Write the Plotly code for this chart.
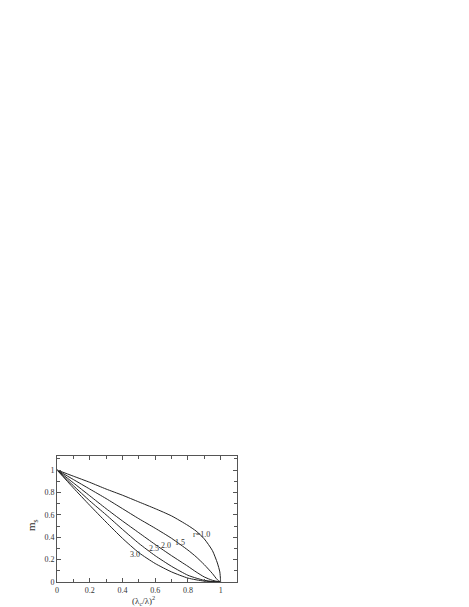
import plotly.graph_objects as go

# values
r_values = ["1.0", "1.5", "2.0", "2.5", "3.0"]

x_r10 = [0, 0.1, 0.2, 0.3, 0.4, 0.5, 0.6, 0.7, 0.8, 0.85, 0.9, 0.95, 0.98, 0.995, 1.0]
m_r10 = [1.0, 0.945, 0.89, 0.83, 0.775, 0.715, 0.655, 0.59, 0.505, 0.455, 0.385, 0.28, 0.17, 0.09, 0.0]

x_r15 = [0, 0.1, 0.2, 0.3, 0.4, 0.5, 0.6, 0.7, 0.8, 0.85, 0.9, 0.95, 0.98, 1.0]
m_r15 = [1.0, 0.915, 0.83, 0.745, 0.655, 0.565, 0.48, 0.39, 0.285, 0.225, 0.155, 0.075, 0.02, 0.0]

x_r20 = [0, 0.1, 0.2, 0.3, 0.4, 0.5, 0.6, 0.7, 0.8, 0.85, 0.9, 0.95, 1.0]
m_r20 = [1.0, 0.885, 0.77, 0.655, 0.545, 0.44, 0.335, 0.235, 0.14, 0.09, 0.045, 0.015, 0.0]

x_r25 = [0, 0.1, 0.2, 0.3, 0.4, 0.5, 0.6, 0.7, 0.8, 0.85, 0.9, 0.95, 1.0]
m_r25 = [1.0, 0.86, 0.725, 0.6, 0.47, 0.345, 0.235, 0.14, 0.06, 0.035, 0.015, 0.005, 0.0]

x_r30 = [0, 0.1, 0.2, 0.3, 0.4, 0.5, 0.6, 0.7, 0.8, 0.9, 1.0]
m_r30 = [1.0, 0.84, 0.685, 0.535, 0.39, 0.262, 0.165, 0.09, 0.035, 0.008, 0.0]

curves = [(x_r10, m_r10), (x_r15, m_r15), (x_r20, m_r20), (x_r25, m_r25), (x_r30, m_r30)]
label_text = ["r=1.0", "1.5", "2.0", "2.5", "3.0"]
label_x = [0.885, 0.753, 0.664, 0.594, 0.478]
label_y = [0.42, 0.357, 0.33, 0.30, 0.245]

tick_vals = [0, 0.2, 0.4, 0.6, 0.8, 1.0]
tick_text = ["0", "0.2", "0.4", "0.6", "0.8", "1"]

FONT = "Liberation Serif, DejaVu Serif, serif"
INK = "#333333"

fig = go.Figure()
for (xs, ms), r in zip(curves, r_values):
    fig.add_trace(go.Scatter(
        x=xs, y=ms, mode="lines", name="r=" + r,
        line=dict(color="#222222", width=1, shape="spline", smoothing=0.6),
        hoverinfo="skip",
    ))

for t, lx, ly in zip(label_text, label_x, label_y):
    fig.add_annotation(x=lx, y=ly, text=t, showarrow=False,
                       font=dict(family=FONT, size=8, color=INK))

# axis titles placed by hand, as in the scanned figure
fig.add_annotation(xref="paper", yref="paper", x=0.478, y=-0.08,
                   xanchor="center", yanchor="top",
                   text="(λ<sub>c</sub>/λ)<sup>2</sup>", showarrow=False,
                   font=dict(family=FONT, size=9, color=INK))
fig.add_annotation(xref="paper", yref="paper", x=-0.135, y=0.45,
                   xanchor="center", yanchor="middle",
                   text="m<sub>s</sub>", showarrow=False, textangle=-90,
                   font=dict(family=FONT, size=11, color=INK))

axis_common = dict(
    showgrid=False, zeroline=False, automargin=False,
    showline=True, linecolor="#555555", linewidth=1,
    mirror="ticks", ticks="inside", ticklen=4, tickcolor="#555555",
    minor=dict(ticks="inside", ticklen=3, dtick=0.1, tickcolor="#555555"),
    tickvals=tick_vals, ticktext=tick_text,
    tickfont=dict(family=FONT, size=8, color=INK),
)

# the page adds an 8px body margin, so the margins are offset by it
fig.update_layout(
    width=469, height=607,
    paper_bgcolor="white", plot_bgcolor="white",
    showlegend=False,
    margin=dict(l=49, r=240, t=448, b=33),
    xaxis=dict(range=[0, 1.1], **axis_common),
    yaxis=dict(range=[0, 1.125], **axis_common),
)

fig.write_html("out.html")
